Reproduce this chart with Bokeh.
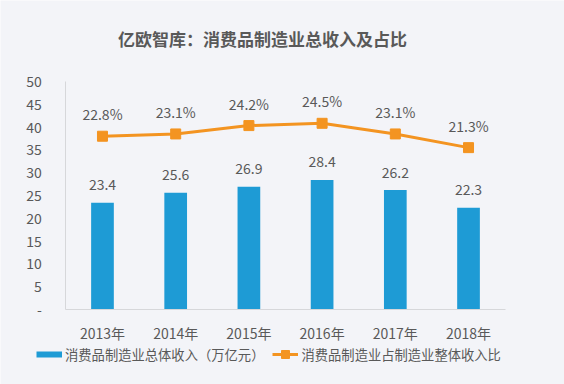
from bokeh.plotting import figure
from bokeh.models import ColumnDataSource, Range1d, Legend, LegendItem, FixedTicker, Label
from bokeh.core.properties import value
from bokeh.embed import file_html
from bokeh.resources import INLINE

years = ["2013年", "2014年", "2015年", "2016年", "2017年", "2018年"]
revenue = [23.4, 25.6, 26.9, 28.4, 26.2, 22.3]
share = [22.8, 23.1, 24.2, 24.5, 23.1, 21.3]
y_ticks = [0, 5, 10, 15, 20, 25, 30, 35, 40, 45, 50]

title_text = "亿欧智库：消费品制造业总收入及占比"
bar_name = "消费品制造业总体收入（万亿元）"
line_name = "消费品制造业占制造业整体收入比"

BLUE = "#1e9bd5"
ORANGE = "#f39421"
GRAY = "#595959"
BG = "#f3f4f8"
CJK = "Noto Sans CJK SC"

xs = list(range(len(years)))
src = ColumnDataSource(dict(
    x=xs, rev=revenue, share=share,
    rev_lbl=[f"{v:.1f}" for v in revenue],
    share_lbl=[f"{v:.1f}%" for v in share],
))

# whole canvas is the plot frame; axes are placed at fixed positions inside it
p = figure(x_range=Range1d(-1.393, 6.311), y_range=Range1d(-16.45, 67.76),
           width=564, height=384, output_backend="svg", toolbar_location=None,
           min_border=0, min_border_left=0, min_border_right=0,
           min_border_top=0, min_border_bottom=0)
p.title.visible = False
p.extra_y_ranges = {"pct": Range1d(-9.87, 40.66)}

p.background_fill_color = BG
p.border_fill_color = BG
p.outline_line_color = None
p.grid.visible = False

bars = p.vbar(x="x", top="rev", width=0.31, source=src, fill_color=BLUE, line_color=None)
p.text(x="x", y="rev", text="rev_lbl", source=src, text_align="center",
       text_baseline="middle", y_offset=-18, text_font=value(CJK),
       text_font_size="14px", text_color=GRAY)

ln = p.line(x="x", y="share", source=src, y_range_name="pct", line_color=ORANGE, line_width=3)
mk = p.scatter(x="x", y="share", source=src, y_range_name="pct", marker="square",
               size=10, fill_color=ORANGE, line_color=ORANGE)
p.text(x="x", y="share", text="share_lbl", source=src, y_range_name="pct",
       text_align="center", text_baseline="middle", y_offset=-22,
       text_font=value(CJK), text_font_size="14px", text_color=GRAY)

# legend stand-in for the bar series (draws nothing in the plot)
leg_bar = p.line(x=xs[:1], y=[float("nan")], line_color=BLUE, line_width=6)

# axes
p.xaxis.ticker = FixedTicker(ticks=xs)
p.xaxis.major_label_overrides = {i: y for i, y in zip(xs, years)}
p.xaxis.fixed_location = 0
p.xaxis.bounds = (-0.5, len(years) - 0.5)
p.yaxis.ticker = FixedTicker(ticks=y_ticks)
p.yaxis.major_label_overrides = {0: "-"}
p.yaxis.fixed_location = -0.5
p.yaxis.bounds = (0, 50)
for ax in (p.xaxis[0], p.yaxis[0]):
    ax.axis_line_color = "#d6d7da"
    ax.major_tick_line_color = None
    ax.minor_tick_line_color = None
    ax.major_label_text_color = GRAY
    ax.major_label_text_font = CJK
    ax.major_label_text_font_size = "14px"
p.yaxis.major_label_standoff = 18
p.xaxis.major_label_standoff = 8

title = Label(x=262, y=346, x_units="screen", y_units="screen", text=title_text,
              text_align="center", text_baseline="middle", text_font=CJK,
              text_font_size="17px", text_font_style="bold", text_color=GRAY)
p.add_layout(title)

legend = Legend(items=[LegendItem(label=bar_name, renderers=[leg_bar]),
                       LegendItem(label=line_name, renderers=[ln, mk])],
                orientation="horizontal", location=(36, 20),
                background_fill_alpha=0, border_line_color=None,
                label_text_font=CJK, label_text_font_size="13.3px", label_text_color=GRAY,
                glyph_width=26, glyph_height=20, label_height=20, label_standoff=3,
                spacing=8, padding=0, margin=0)
p.add_layout(legend)

open("out.html", "w").write(file_html(p, INLINE))
